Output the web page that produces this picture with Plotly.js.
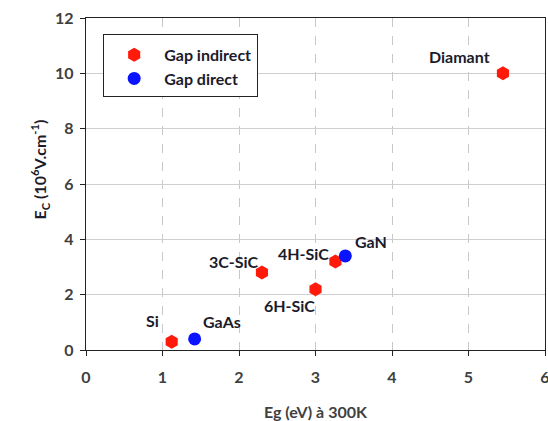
<!DOCTYPE html>
<html>
<head>
<meta charset="utf-8">
<script src="https://cdn.plot.ly/plotly-3.0.1.min.js"></script>
<style>html,body{margin:0;padding:0;background:#fff;}#chart{width:548px;height:421px;}</style>
</head>
<body>
<div id="chart"></div>
<script>
// Gap indirect materials
const indirectNames = ["Si", "3C-SiC", "6H-SiC", "4H-SiC", "Diamant"];
const indirectEg = [1.12, 2.3, 3.0, 3.26, 5.45];
const indirectEc = [0.3, 2.8, 2.2, 3.2, 10];
// Gap direct materials
const directNames = ["GaAs", "GaN"];
const directEg = [1.42, 3.39];
const directEc = [0.4, 3.4];

// label offsets (pixels) per material
const labelOffsets = {
  "Si": [-19, 21], "3C-SiC": [-28, 11], "6H-SiC": [-26, -16], "4H-SiC": [-32, 8],
  "Diamant": [-43, 17], "GaAs": [27, 17], "GaN": [26, 14]
};

const font = "Lato, 'Open Sans', Arial, sans-serif";
const textColor = "#1b1b2b";
const annotations = [];
function addLabels(names, xs, ys) {
  names.forEach((n, i) => {
    const o = labelOffsets[n];
    annotations.push({x: xs[i], y: ys[i], text: "<b>" + n + "</b>", showarrow: false,
      xshift: o[0], yshift: o[1], font: {family: font, size: 16, color: textColor}});
  });
}
addLabels(indirectNames, indirectEg, indirectEc);
addLabels(directNames, directEg, directEc);

// y axis title as annotation for precise placement
annotations.push({xref: "paper", yref: "paper", x: 0, y: 0.5, xshift: -60, yshift: 14,
  textangle: -90, showarrow: false,
  text: "<b>E<sub>C</sub> (10<sup>6</sup>V.cm<sup>-1</sup>)</b>",
  font: {family: font, size: 16, color: textColor}});

const traces = [
  {x: indirectEg, y: indirectEc, name: "<b>Gap indirect</b>", mode: "markers", type: "scatter",
   marker: {symbol: "hexagon", size: 14, color: "#ff1a0a"}},
  {x: directEg, y: directEc, name: "<b>Gap direct</b>", mode: "markers", type: "scatter",
   marker: {symbol: "circle", size: 13, color: "#0a14ff"}}
];

const layout = {
  width: 548, height: 421,
  margin: {l: 86, r: 3, t: 18, b: 71},
  paper_bgcolor: "#fff", plot_bgcolor: "#fff",
  showlegend: true,
  legend: {x: 0.037, y: 0.952, xanchor: "left", yanchor: "top", bgcolor: "#fff",
    bordercolor: "#222", borderwidth: 1.2, font: {family: font, size: 16, color: textColor},
    itemwidth: 50,
    title: {text: " ", font: {size: 2}}},
  xaxis: {range: [0, 6], dtick: 1, showgrid: true, gridcolor: "#c8c8c8", griddash: "dash",
    zeroline: false, showline: true, linecolor: "#222", linewidth: 1.2, mirror: true,
    ticks: "outside", ticklen: 5, tickcolor: "#222", ticklabelstandoff: 8,
    ticklabeloverflow: "allow",
    tickfont: {family: font, size: 16, color: "#404040", weight: "bold"},
    title: {text: "<b>Eg (eV) à 300K</b>", font: {family: font, size: 16, color: "#404040"}, standoff: 24}},
  yaxis: {range: [0, 12], dtick: 2, showgrid: true, gridcolor: "#cfcfcf",
    zeroline: false, showline: true, linecolor: "#222", linewidth: 1.2, mirror: true,
    ticks: "outside", ticklen: 5, tickcolor: "#222", ticklabelstandoff: 3,
    tickfont: {family: font, size: 16, color: "#404040", weight: "bold"}},
  annotations: annotations
};

Plotly.newPlot("chart", traces, layout, {displayModeBar: false, staticPlot: true});
</script>
</body>
</html>
